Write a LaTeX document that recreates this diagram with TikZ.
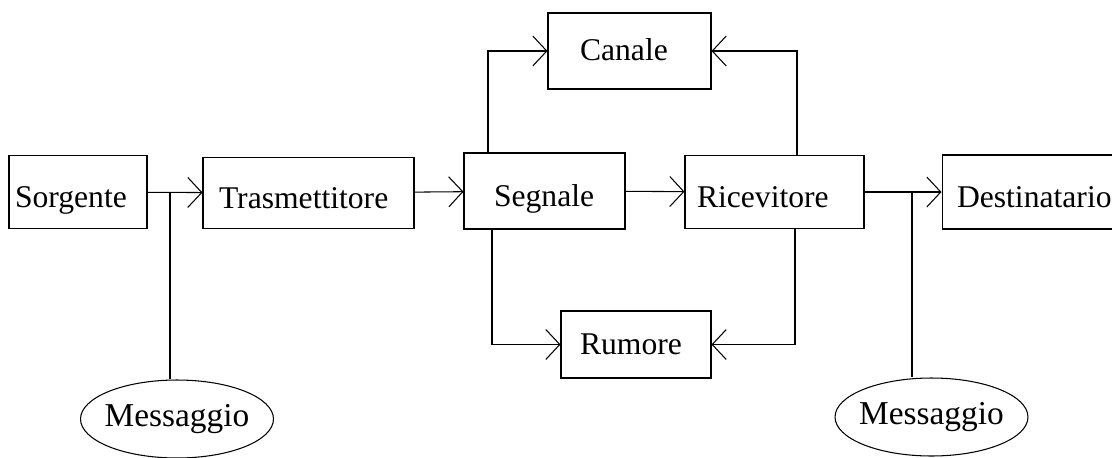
\documentclass[tikz,border=0pt]{standalone}
\usepackage{fontspec}
\setmainfont{Liberation Serif}
\usetikzlibrary{arrows.meta,shapes.geometric}
\tikzset{
  >={Straight Barb[length=0.28cm,width=0.6cm]},
  box/.style 2 args={draw,rectangle,inner ysep=0pt,inner xsep=#1,text width=#2,
    align=left,font=\fontsize{18}{22}\selectfont,text depth=0pt,text height=0.6cm},
  sidebox/.style={text height=0.39cm},
  oval/.style={draw,ellipse,inner ysep=0pt,inner xsep=-0.6cm,font=\fontsize{19}{22}\selectfont,
    text depth=0pt,text height=0.3cm,minimum width=3.86cm,minimum height=1.56cm}
}
\begin{document}
\begin{tikzpicture}[x=0.02cm,y=-0.02cm,line width=0.6pt]
      \useasboundingbox (0,0) rectangle (1112,457);
      \draw
        (78,192) node[box={0.12cm}{2.52cm},minimum height=1.46cm] (sorg){Sorgente}
        (308.5,193) node[box={0.32cm}{3.58cm},minimum height=1.42cm] (tras){Trasmettitore}
        (544.5,191) node[box={0.6cm}{2.02cm},minimum height=1.52cm] (seg){Segnale}
        (774.5,192) node[box={0.24cm}{3.1cm},minimum height=1.46cm] (ric){Ricevitore}
        (1035,192) node[box={0.3cm}{3.12cm},minimum height=1.48cm] (dest){Destinatario}
        (629.5,51) node[box={0.64cm}{1.98cm},sidebox,minimum height=1.52cm] (can){Canale}
        (636,344.5) node[box={0.38cm}{2.24cm},sidebox,minimum height=1.34cm] (rum){Rumore}
        (177,419) node[oval] (msg1){Messaggio}
        (931.5,417) node[oval] (msg2){Messaggio};
      \coordinate (j1) at (170,192);
      \coordinate (j2) at (912,192);
      \begin{scope}[->]
        \draw (sorg) to (tras);
        \draw (tras) to (seg);
        \draw (seg) to (ric);
        \draw (ric) to (dest);
        \draw ([xshift=-1.13cm]seg.north) |- (can.west);
        \draw ([xshift=0.45cm]ric.north) |- (can.east);
        \draw ([xshift=-1.05cm]seg.south) |- (rum.west);
        \draw ([xshift=0.41cm]ric.south) |- (rum.east);
      \end{scope}
      \begin{scope}[-]
        \draw (j1) to (j1 |- msg1.north);
        \draw (j2) to (j2 |- msg2.north);
      \end{scope}
    \end{tikzpicture}
\end{document}
